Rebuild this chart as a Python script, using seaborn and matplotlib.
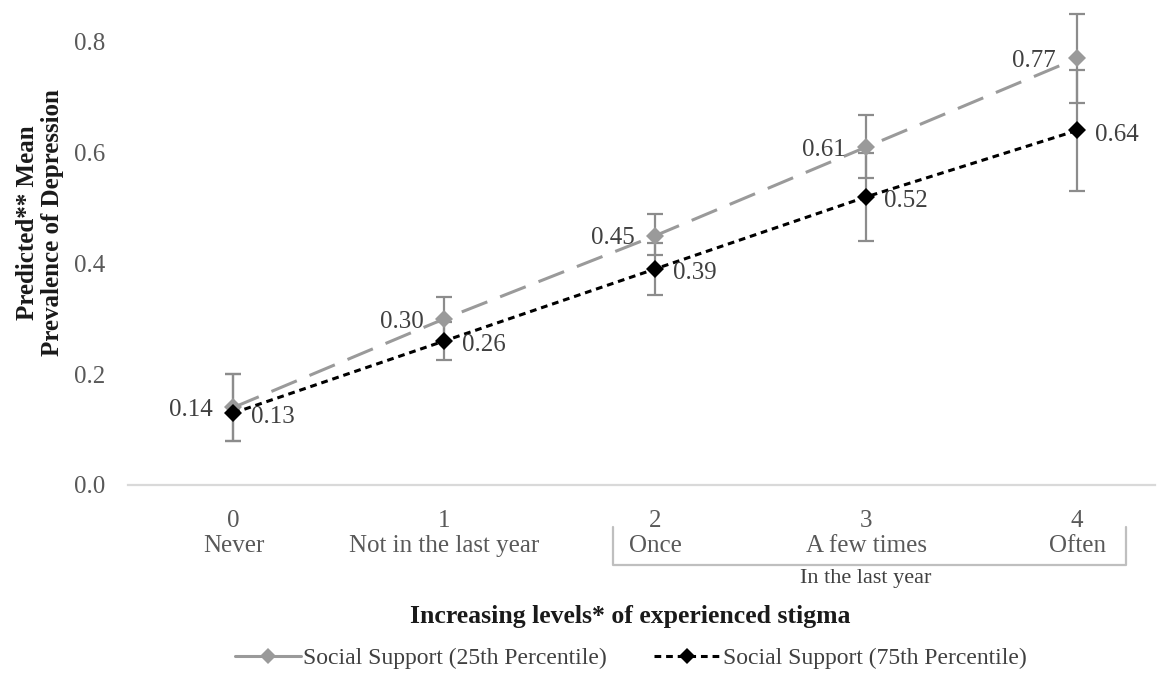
import matplotlib
matplotlib.use("Agg")
import matplotlib.pyplot as plt
import matplotlib.transforms as mtransforms
from matplotlib.lines import Line2D
import seaborn as sns
import pandas as pd
import numpy as np

# Data
levels = [0, 1, 2, 3, 4]
level_names = ["Never", "Not in the last year", "Once", "A few times", "Often"]
support_25 = [0.14, 0.30, 0.45, 0.61, 0.77]
support_25_lo = [0.06, 0.04, 0.035, 0.055, 0.08]
support_25_hi = [0.06, 0.04, 0.04, 0.058, 0.08]
support_75 = [0.13, 0.26, 0.39, 0.52, 0.64]
support_75_lo = [0.05, 0.035, 0.047, 0.08, 0.11]
support_75_hi = [0.07, 0.035, 0.047, 0.08, 0.11]
series_names = ["Social Support (25th Percentile)", "Social Support (75th Percentile)"]

GRAY = "#9a9a9a"
ERR_GRAY = "#8c8c8c"
TEXT = "#404040"
TICK = "#595959"

sns.set_theme(style="white")
plt.rcParams["font.family"] = ["Liberation Serif", "DejaVu Serif"]

df = pd.DataFrame({
    "level": levels * 2,
    "value": support_25 + support_75,
    "series": [series_names[0]] * 5 + [series_names[1]] * 5,
})

fig = plt.figure(figsize=(11.57, 6.75), dpi=100)
ax = fig.add_axes([0.1106, 0.2815, 0.8877, 0.714])

# error bars first, lines and markers over them
ax.errorbar(levels, support_25, yerr=[support_25_lo, support_25_hi], fmt="none",
            ecolor=ERR_GRAY, elinewidth=1.6, capsize=6, capthick=1.6, zorder=1, clip_on=False)
ax.errorbar(levels, support_75, yerr=[support_75_lo, support_75_hi], fmt="none",
            ecolor=ERR_GRAY, elinewidth=1.6, capsize=6, capthick=1.6, zorder=1, clip_on=False)

sns.lineplot(data=df[df.series == series_names[0]], x="level", y="value", ax=ax,
             color=GRAY, lw=2.2, marker="D", markersize=9, markeredgewidth=0,
             legend=False, zorder=2)
ax.lines[-1].set_dashes([9, 4.5])
sns.lineplot(data=df[df.series == series_names[1]], x="level", y="value", ax=ax,
             color="black", lw=2.2, marker="D", markersize=9, markeredgewidth=0,
             legend=False, zorder=3)
ax.lines[-1].set_dashes([2.2, 1.6])

# data labels
for x, v in zip(levels, support_25):
    ax.annotate(f"{v:.2f}", (x, v), xytext=(-15, -2), textcoords="offset points",
                ha="right", va="center", fontsize=18, color=TEXT)
for x, v in zip(levels, support_75):
    ax.annotate(f"{v:.2f}", (x, v), xytext=(13, -3), textcoords="offset points",
                ha="left", va="center", fontsize=18, color=TEXT)

ax.set_xlim(-0.5, 4.37)
ax.set_ylim(0, 0.87)
ax.set_yticks([0.0, 0.2, 0.4, 0.6, 0.8])
ax.set_yticklabels([f"{t:.1f}" for t in [0.0, 0.2, 0.4, 0.6, 0.8]])
ax.set_xticks(levels)
ax.set_xticklabels([f"{l}\n{n}" for l, n in zip(levels, level_names)], linespacing=1.2)
ax.tick_params(axis="both", length=0, labelsize=18, labelcolor=TICK)
ax.tick_params(axis="x", pad=18)
ax.tick_params(axis="y", pad=16)

for side in ["top", "right", "left"]:
    ax.spines[side].set_visible(False)
ax.spines["bottom"].set_color("#d9d9d9")
ax.spines["bottom"].set_linewidth(1.6)

ax.set_xlabel("")
ax.set_ylabel("Predicted** Mean\nPrevalence of Depression", fontsize=18,
              fontweight="bold", color="#1a1a1a", linespacing=1.1)
ax.yaxis.set_label_coords(-0.062, 0.545)

# bracket for "In the last year"
trans = mtransforms.blended_transform_factory(ax.transData, ax.transAxes)
bx = [1.80, 1.80, 4.23, 4.23]
by = [-0.088, -0.166, -0.166, -0.088]
ax.add_line(Line2D(bx, by, transform=trans, color="#bfbfbf", lw=1.6, clip_on=False,
                   solid_joinstyle="round"))
ax.text(3.0, -0.195, "In the last year", transform=trans, ha="center", va="center",
        fontsize=16, color=TEXT)

fig.text(0.545, 0.086, "Increasing levels* of experienced stigma", ha="center",
         va="center", fontsize=18.5, fontweight="bold", color="#1a1a1a")

handles = [
    Line2D([], [], color=GRAY, lw=2.2, marker="D", markersize=8, markeredgewidth=0),
    Line2D([], [], color="black", lw=2.2, dashes=[2.2, 1.6], marker="D", markersize=8,
           markeredgewidth=0),
]
fig.legend(handles, series_names, loc="center", bbox_to_anchor=(0.545, 0.025), ncol=2,
           frameon=False, fontsize=17, handlelength=2.8, handletextpad=0.1,
           columnspacing=2.0, labelcolor=TEXT)

fig.savefig("out.png", dpi=100)
